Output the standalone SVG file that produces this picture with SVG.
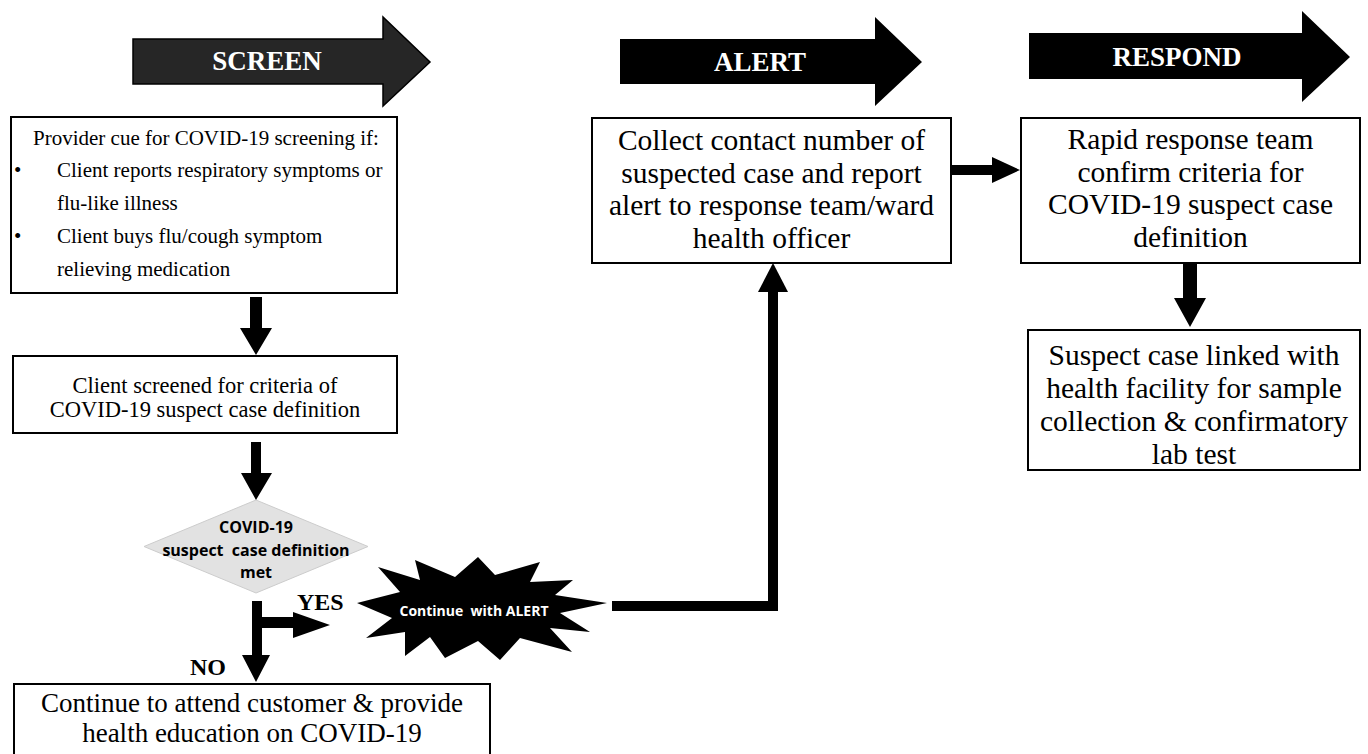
<svg xmlns="http://www.w3.org/2000/svg" width="1368" height="754" viewBox="0 0 1368 754">
<style>
.bg{fill:#ffffff}
.box{fill:#ffffff;stroke:#000000;stroke-width:2}
.t{font-family:"Liberation Serif","Times New Roman",serif;fill:#000000}
.s21{font-size:21px}
.s22{font-size:22.5px}
.s27{font-size:27px}
.s29{font-size:29.5px}
.hdr{font-family:"Liberation Serif","Times New Roman",serif;font-weight:bold;font-size:27px;fill:#ffffff}
.lbl{font-family:"Liberation Serif","Times New Roman",serif;font-weight:bold;font-size:24px;fill:#000000}
.sans{font-family:"Open Sans","Noto Sans",sans-serif;font-weight:bold}
.blk{fill:#000000}
.line{fill:none;stroke:#000000;stroke-width:10}
</style>
<rect class="bg" x="0" y="0" width="1368" height="754"/>

<g id="hdr-screen">
<polygon points="133,39 383,39 383,17 430,62 383,106 383,84 133,84" fill="#262626" stroke="#000000" stroke-width="1.5"/>
<text class="hdr" x="267" y="70" text-anchor="middle">SCREEN</text>
</g>
<g id="hdr-alert">
<polygon points="620,39 875,39 875,17 922,62 875,106 875,84 620,84" fill="#000000"/>
<text class="hdr" x="760" y="71" text-anchor="middle">ALERT</text>
</g>
<g id="hdr-respond">
<polygon points="1029,33 1302,33 1302,11 1350,57 1302,102 1302,79 1029,79" fill="#000000"/>
<text class="hdr" x="1177" y="66" text-anchor="middle">RESPOND</text>
</g>

<g id="node-cue">
<rect class="box" x="11" y="117" width="386" height="176"/>
<text class="t s21" x="33" y="145">Provider cue for COVID-19 screening if:</text>
<text class="t s21" x="14" y="177">•</text>
<text class="t s21" x="57" y="177">Client reports respiratory symptoms or</text>
<text class="t s21" x="57" y="210">flu-like illness</text>
<text class="t s21" x="14" y="243">•</text>
<text class="t s21" x="57" y="243">Client buys flu/cough symptom</text>
<text class="t s21" x="57" y="276">relieving medication</text>
</g>

<g id="node-screened">
<rect class="box" x="13" y="356" width="384" height="77"/>
<text class="t s22" x="205" y="393" text-anchor="middle">Client screened for criteria of</text>
<text class="t s22" x="205" y="417" text-anchor="middle">COVID-19 suspect case definition</text>
</g>

<g id="node-decision">
<polygon points="144,546.5 256,500 368,546.5 256,593" fill="#e2e2e2" stroke="#cccccc" stroke-width="1"/>
<text class="sans" x="256" y="533" font-size="16" text-anchor="middle">COVID-19</text>
<text class="sans" x="256" y="556" font-size="16" text-anchor="middle" style="white-space:pre">suspect  case definition</text>
<text class="sans" x="256" y="578" font-size="16" text-anchor="middle">met</text>
</g>

<g id="node-continue-alert">
<polygon points="357,603 400,592 378,567 420,580 415,560 455,577 478,557 495,575 540,562 530,582 573,580 555,595 607,603 560,613 590,632 550,628 572,652 520,638 500,660 478,641 445,658 430,637 405,656 405,632 366,638 392,618" fill="#000000"/>
<text class="sans" x="474" y="616" font-size="14" fill="#ffffff" text-anchor="middle" style="white-space:pre">Continue  with ALERT</text>
</g>

<g id="node-educate">
<rect class="box" x="14" y="684" width="476" height="80"/>
<text class="t s27" x="252" y="712" text-anchor="middle">Continue to attend customer &amp; provide</text>
<text class="t s27" x="252" y="742" text-anchor="middle">health education on COVID-19</text>
</g>

<g id="node-collect">
<rect class="box" x="592" y="118" width="359" height="145"/>
<text class="t s29" x="771.5" y="150" text-anchor="middle">Collect contact number of</text>
<text class="t s29" x="771.5" y="183" text-anchor="middle">suspected case and report</text>
<text class="t s29" x="771.5" y="215" text-anchor="middle">alert to response team/ward</text>
<text class="t s29" x="771.5" y="248" text-anchor="middle">health officer</text>
</g>

<g id="node-rapid">
<rect class="box" x="1021" y="118" width="339" height="145"/>
<text class="t s29" x="1190.5" y="149" text-anchor="middle">Rapid response team</text>
<text class="t s29" x="1190.5" y="182" text-anchor="middle">confirm criteria for</text>
<text class="t s29" x="1190.5" y="214" text-anchor="middle">COVID-19 suspect case</text>
<text class="t s29" x="1190.5" y="247" text-anchor="middle">definition</text>
</g>

<g id="node-linked">
<rect class="box" x="1028" y="330" width="332" height="140"/>
<text class="t s29" x="1194" y="365" text-anchor="middle">Suspect case linked with</text>
<text class="t s29" x="1194" y="398" text-anchor="middle">health facility for sample</text>
<text class="t s29" x="1194" y="431" text-anchor="middle">collection &amp; confirmatory</text>
<text class="t s29" x="1194" y="464" text-anchor="middle">lab test</text>
</g>

<g id="connectors">
<polygon class="blk" points="250,297 262,297 262,328 272,328 256,355 240,328 250,328"/>
<polygon class="blk" points="251,442 261,442 261,473 272,473 256,500 241,473 251,473"/>
<polygon class="blk" points="252,601 262,601 262,617 293,617 293,612 330,625 293,638 293,628 262,628 262,655 270,655 256,682 242,655 252,655"/>
<polyline class="line" points="612,606 773,606 773,290"/>
<polygon class="blk" points="758,292 773,263 788,292"/>
<polygon class="blk" points="951,165 992,165 992,157 1020,170 992,183 992,175 951,175"/>
<polygon class="blk" points="1183,264 1197,264 1197,298 1206,298 1190,327 1174,298 1183,298"/>
<text class="lbl" x="297" y="610">YES</text>
<text class="lbl" x="190" y="675">NO</text>
</g>
</svg>
